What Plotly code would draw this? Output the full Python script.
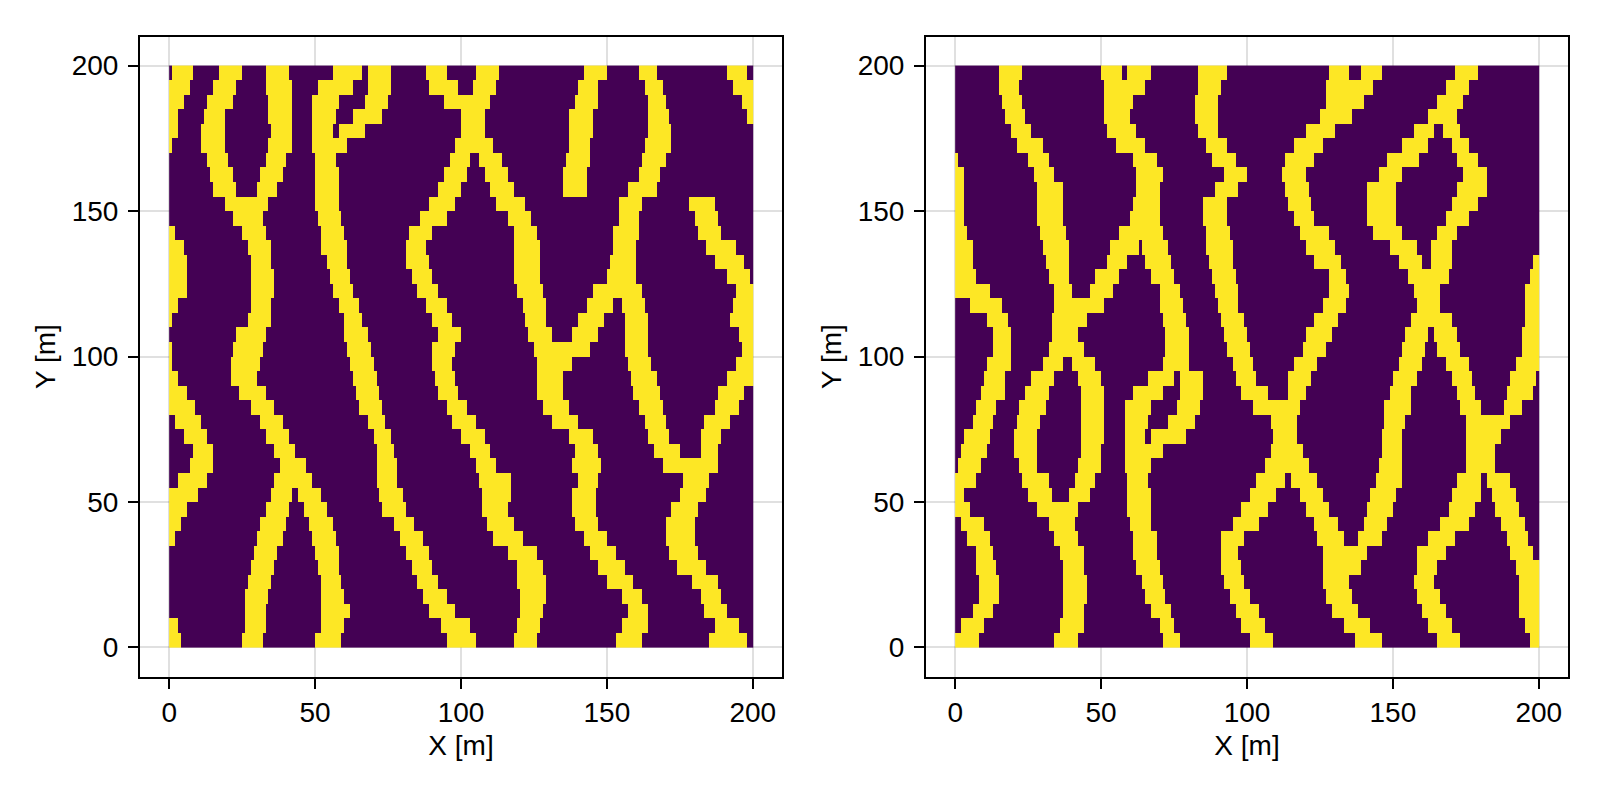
import numpy as np
import plotly.graph_objects as go

# row centres in metres, top to bottom; each row lists its channel spans (x from, x to)
row_y = [197.5 - 5 * i for i in range(40)]

left_spans = [
 [(1,8),(17,25),(33,41),(56,66),(68,76),(88,95),(105,113),(142,150),(161,167),(191,198)],
 [(0,7),(15,23),(33,42),(51,63),(68,76),(89,99),(104,112),(140,147),(163,169),(193,200)],
 [(0,5),(13,22),(34,42),(49,58),(67,75),(94,110),(139,147),(164,170),(196,200)],
 [(0,3),(12,19),(34,42),(49,57),(63,73),(100,108),(137,145),(164,171),(198,200)],
 [(0,3),(11,19),(35,42),(49,56),(58,67),(100,108),(137,145),(164,172)],
 [(0,1),(11,19),(34,42),(49,61),(98,111),(137,144),(163,172)],
 [(13,20),(33,40),(50,57),(96,103),(106,114),(136,144),(162,170)],
 [(14,22),(31,39),(50,58),(94,102),(108,116),(135,143),(161,168)],
 [(15,23),(30,37),(50,58),(92,100),(110,118),(135,143),(157,167)],
 [(19,34),(50,58),(89,98),(112,122),(154,162),(178,187)],
 [(22,32),(51,59),(86,95),(116,124),(154,161),(180,188)],
 [(0,2),(25,33),(52,60),(82,90),(118,126),(152,161),(181,189)],
 [(0,5),(27,35),(52,61),(81,88),(118,127),(152,160),(184,194)],
 [(0,6),(28,35),(54,61),(81,89),(118,127),(151,160),(187,197)],
 [(0,6),(28,36),(55,62),(83,90),(118,127),(150,160),(191,199)],
 [(0,6),(28,36),(56,63),(85,92),(119,128),(145,162),(194,200)],
 [(0,3),(28,35),(58,65),(88,95),(121,129),(143,152),(155,163),(193,200)],
 [(0,1),(27,35),(60,66),(90,97),(122,129),(140,149),(156,164),(192,200)],
 [(23,33),(60,68),(92,100),(123,131),(138,147),(156,164),(195,200)],
 [(0,1),(22,32),(61,69),(90,98),(125,144),(156,164),(196,200)],
 [(0,1),(21,31),(62,70),(90,97),(126,138),(157,165),(194,200)],
 [(0,3),(21,30),(63,71),(91,98),(126,135),(158,167),(191,200)],
 [(0,6),(24,33),(64,72),(92,99),(126,135),(159,168),(188,197)],
 [(0,9),(28,36),(65,73),(95,102),(128,137),(161,169),(187,195)],
 [(2,11),(31,39),(68,74),(97,105),(131,140),(163,170),(183,192)],
 [(5,13),(33,41),(70,76),(100,108),(137,145),(164,171),(182,189)],
 [(8,15),(36,43),(71,77),(103,110),(139,147),(166,175),(182,188)],
 [(7,15),(38,47),(71,78),(105,112),(138,148),(169,188)],
 [(3,13),(36,49),(71,78),(106,117),(140,147),(176,185)],
 [(0,10),(35,42),(44,52),(72,80),(107,117),(138,146),(175,184)],
 [(0,6),(33,41),(46,54),(73,81),(107,116),(138,146),(172,181)],
 [(0,4),(31,40),(48,56),(77,84),(109,118),(139,147),(170,180)],
 [(0,2),(30,39),(49,57),(79,87),(111,121),(142,150),(170,180)],
 [(29,37),(50,58),(81,89),(116,126),(144,153),(171,181)],
 [(28,36),(51,58),(83,90),(119,128),(147,156),(174,184)],
 [(27,35),(52,59),(85,92),(119,129),(150,159),(179,188)],
 [(26,34),(52,60),(87,95),(120,129),(155,162),(182,189)],
 [(26,33),(52,62),(89,98),(120,128),(157,164),(183,191)],
 [(0,3),(26,33),(52,60),(93,103),(119,127),(155,164),(187,195)],
 [(0,4),(25,32),(50,59),(95,105),(118,126),(153,162),(185,198)],
]

right_spans = [
 [(15,23),(50,57),(59,67),(83,93),(128,135),(139,146),(171,179)],
 [(15,22),(51,65),(83,91),(127,143),(168,176)],
 [(16,23),(51,61),(82,90),(127,140),(165,174)],
 [(17,24),(51,60),(82,90),(125,136),(162,172)],
 [(19,26),(52,62),(83,90),(120,130),(157,164),(167,173)],
 [(21,30),(55,65),(86,93),(116,126),(153,162),(170,176)],
 [(0,1),(25,32),(61,69),(88,96),(113,123),(148,159),(172,179)],
 [(0,3),(27,34),(62,71),(92,100),(112,120),(145,153),(174,182)],
 [(0,3),(28,37),(62,70),(89,97),(113,121),(141,151),(172,182)],
 [(0,3),(28,37),(61,70),(85,93),(114,122),(141,151),(170,179)],
 [(0,3),(28,37),(60,70),(85,93),(116,123),(141,151),(168,176)],
 [(0,4),(29,38),(56,71),(86,94),(118,128),(143,153),(165,172)],
 [(0,6),(30,39),(53,63),(64,73),(86,95),(120,130),(149,158),(163,170)],
 [(0,6),(31,39),(52,59),(65,74),(87,95),(123,132),(152,160),(163,170),(198,200)],
 [(0,7),(32,39),(48,56),(67,75),(88,96),(128,134),(155,169),(197,200)],
 [(0,12),(34,40),(46,54),(70,77),(89,97),(128,135),(157,166),(195,200)],
 [(5,16),(34,51),(70,78),(90,97),(126,134),(158,166),(195,200)],
 [(11,18),(33,45),(71,79),(91,99),(123,131),(156,170),(195,200)],
 [(13,19),(33,42),(72,80),(92,100),(120,129),(154,162),(164,172),(194,200)],
 [(13,19),(32,44),(72,80),(93,101),(119,127),(153,161),(165,173),(194,200)],
 [(11,19),(30,37),(40,48),(71,80),(95,102),(116,124),(152,160),(168,176),(192,200)],
 [(10,17),(26,34),(42,50),(66,75),(77,85),(96,103),(114,122),(150,158),(170,177),(190,199)],
 [(9,17),(24,32),(43,51),(61,71),(77,85),(98,107),(114,120),(149,156),(172,178),(189,198)],
 [(7,14),(22,31),(43,51),(58,67),(76,84),(102,118),(147,156),(173,180),(188,194)],
 [(6,13),(21,29),(43,51),(58,66),(73,82),(108,117),(147,154),(175,190)],
 [(3,12),(20,28),(43,51),(58,65),(67,79),(109,117),(146,153),(175,187)],
 [(2,11),(20,28),(43,50),(58,71),(108,119),(146,153),(175,185)],
 [(1,9),(22,28),(42,50),(58,67),(106,121),(145,153),(175,185)],
 [(0,7),(23,32),(41,48),(59,66),(103,113),(115,124),(144,153),(172,180),(182,190)],
 [(0,3),(25,33),(39,46),(59,67),(101,110),(118,126),(142,151),(170,180),(184,192)],
 [(0,5),(28,42),(59,67),(98,107),(120,128),(141,150),(169,178),(185,193)],
 [(2,10),(32,41),(60,67),(95,104),(123,131),(140,148),(166,176),(187,195)],
 [(4,12),(34,42),(61,69),(91,99),(124,133),(138,146),(162,171),(189,196)],
 [(7,13),(36,44),(61,69),(91,97),(126,141),(158,168),(190,198)],
 [(7,14),(37,44),(62,70),(91,98),(126,139),(158,165),(192,200)],
 [(8,15),(37,45),(64,71),(92,99),(126,135),(157,164),(193,200)],
 [(8,15),(37,45),(65,72),(94,101),(127,136),(158,166),(193,200)],
 [(6,13),(37,44),(67,74),(96,104),(129,138),(160,168),(193,200)],
 [(2,10),(36,44),(70,75),(98,106),(133,142),(162,170),(195,200)],
 [(0,8),(34,42),(71,77),(101,109),(137,146),(165,173),(197,200)],
]

tick_values = [0, 50, 100, 150, 200]
x_title = "X [m]"
y_title = "Y [m]"

def to_grid(spans):
    grid = np.zeros((len(spans), 200), dtype=int)
    for i, row in enumerate(spans):
        for a, b in row:
            grid[i, a:b] = 1
    return grid

x_centres = np.arange(200) + 0.5
colorscale = [[0, "#440154"], [1, "#FDE725"]]

fig = go.Figure()
for spans, xa, ya in [(left_spans, "x", "y"), (right_spans, "x2", "y2")]:
    fig.add_trace(go.Heatmap(x=x_centres, y=row_y, z=to_grid(spans), zmin=0, zmax=1,
                             colorscale=colorscale, showscale=False, xaxis=xa, yaxis=ya))

W, H = 1600, 800
PAGE = 8  # the page body's own margin offsets the figure in the browser
font = dict(family="Liberation Sans", size=28, color="black")
axis = dict(range=[-10, 210], tickvals=tick_values, showgrid=True,
            gridcolor="rgba(0,0,0,0.12)", gridwidth=2, zeroline=False,
            showline=True, linecolor="black", linewidth=2, mirror=True,
            ticks="outside", ticklen=10, tickwidth=2, tickcolor="black",
            tickfont=font, automargin=False)
dom_y = [1 - (676.5 - PAGE) / H, 1 - (36.5 - PAGE) / H]
x_extra = dict(ticklabelstandoff=0)
y_extra = dict(ticklabelstandoff=4)
fig.update_layout(
    width=W, height=H, margin=dict(l=0, r=0, t=0, b=0),
    paper_bgcolor="white", plot_bgcolor="white", showlegend=False,
    xaxis=dict(axis, **x_extra, domain=[(140 - PAGE) / W, (782 - PAGE) / W], title=dict(text=x_title, font=font, standoff=8)),
    yaxis=dict(axis, **y_extra, domain=dom_y, anchor="x", title=dict(text=y_title, font=font, standoff=8)),
    xaxis2=dict(axis, **x_extra, domain=[(926 - PAGE) / W, (1568 - PAGE) / W], anchor="y2", title=dict(text=x_title, font=font, standoff=8)),
    yaxis2=dict(axis, **y_extra, domain=dom_y, anchor="x2", title=dict(text=y_title, font=font, standoff=8)),
)
fig.write_html("out.html")
